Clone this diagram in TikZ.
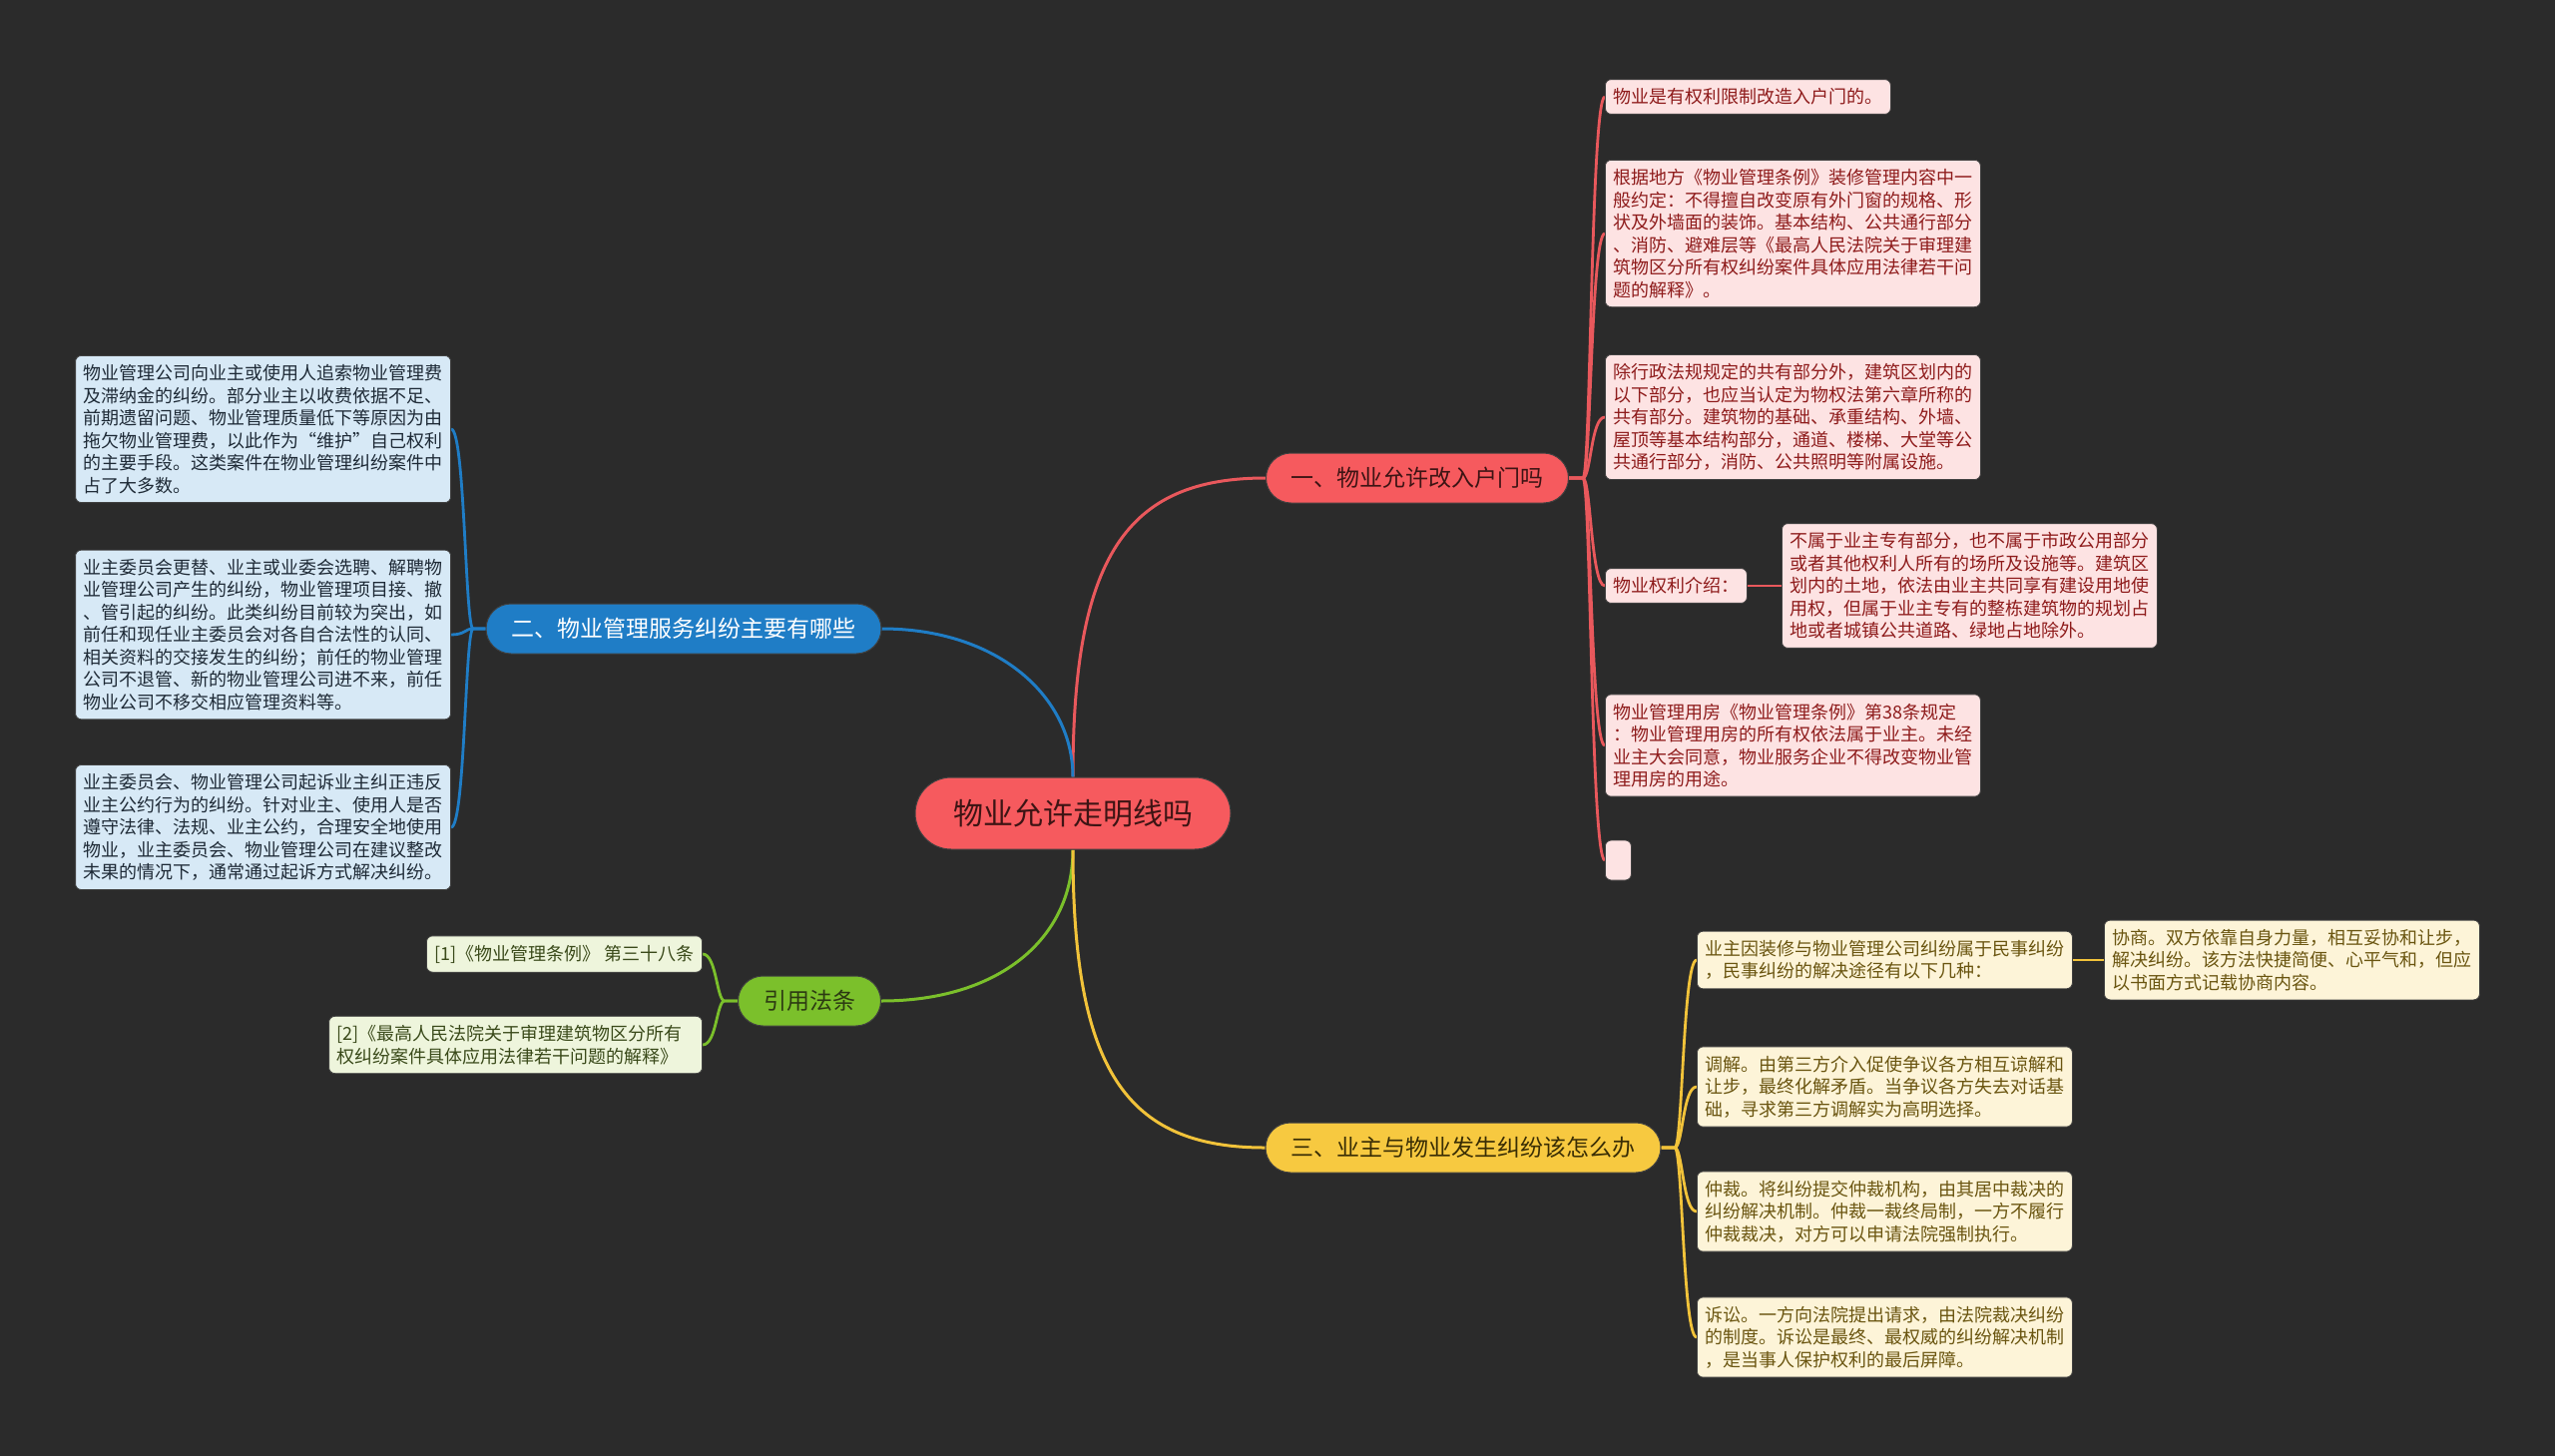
\documentclass[tikz,border=0pt]{standalone}
\usepackage{fontspec}
\setmainfont{Noto Sans CJK SC}
\usetikzlibrary{backgrounds}
\definecolor{bg}{HTML}{2B2B2B}
\definecolor{coral}{HTML}{F65A5E}
\definecolor{coraltext}{HTML}{3D1414}
\definecolor{bblue}{HTML}{1F7DC6}
\definecolor{byellow}{HTML}{F7C940}
\definecolor{ytexttop}{HTML}{3A2E05}
\definecolor{bgreen}{HTML}{7BC02B}
\definecolor{gtexttop}{HTML}{2C3A12}
\definecolor{rfill}{HTML}{FDE3E3}
\definecolor{rtext}{HTML}{8E1B1B}
\definecolor{bfill}{HTML}{D7E9F6}
\definecolor{btext}{HTML}{1E2A36}
\definecolor{gfill}{HTML}{EEF5DC}
\definecolor{gtext}{HTML}{3A4A1A}
\definecolor{yfill}{HTML}{FDF4D8}
\definecolor{ytext}{HTML}{6A5510}
\definecolor{lred}{HTML}{E9585C}
\definecolor{lblue}{HTML}{1F7DC6}
\definecolor{lgreen}{HTML}{7BC02B}
\definecolor{lyellow}{HTML}{F2C33A}
\tikzset{
  leaf/.style={draw=black!75, line width=0.8pt, rounded corners=6pt, inner xsep=8pt, inner ysep=9pt, font=\fontsize{18}{22.5}\selectfont, align=left},
  wide/.style={text width=360pt},
  rleaf/.style={leaf, fill=rfill, text=rtext},
  bleaf/.style={leaf, fill=bfill, text=btext},
  gleaf/.style={leaf, fill=gfill, text=gtext},
  yleaf/.style={leaf, fill=yfill, text=ytext},
  branch/.style={draw=black!75, line width=1pt, rounded corners=25pt, minimum height=50pt, inner sep=0pt, font=\fontsize{23}{28}\selectfont},
  conn/.style={line width=3pt},
  rl/.style={conn, draw=lred},
  bl/.style={conn, draw=lblue},
  gl/.style={conn, draw=lgreen},
  yl/.style={conn, draw=lyellow},
}
\begin{document}
\begin{tikzpicture}[x=1pt,y=-1pt]
\useasboundingbox (0,0) rectangle (2560,1459);

% center
\node[draw=black!75, line width=1pt, fill=coral, text=coraltext, rounded corners=36pt, minimum width=316pt, minimum height=72pt, inner sep=0pt, font=\fontsize{30}{36}\selectfont] (c) at (1075,815) {物业允许走明线吗};

% branches
\node[branch, fill=coral, text=coraltext, minimum width=303pt] (b1) at (1420,479) {一、物业允许改入户门吗};
\node[branch, fill=bblue, text=white, minimum width=396pt] (b2) at (685,630) {二、物业管理服务纠纷主要有哪些};
\node[branch, fill=byellow, text=ytexttop, minimum width=396pt] (b3) at (1466,1150) {三、业主与物业发生纠纷该怎么办};
\node[branch, fill=bgreen, text=gtexttop, minimum width=143pt] (b4) at (811,1003) {引用法条};

% red leaves
\node[rleaf, anchor=west] (r1) at (1608,97) {物业是有权利限制改造入户门的。};
\node[rleaf, wide, anchor=west] (r2) at (1608,234) {根据地方《物业管理条例》装修管理内容中一\\般约定：不得擅自改变原有外门窗的规格、形\\状及外墙面的装饰。基本结构、公共通行部分\\、消防、避难层等《最高人民法院关于审理建\\筑物区分所有权纠纷案件具体应用法律若干问\\题的解释》。};
\node[rleaf, wide, anchor=west] (r3) at (1608,418) {除行政法规规定的共有部分外，建筑区划内的\\以下部分，也应当认定为物权法第六章所称的\\共有部分。建筑物的基础、承重结构、外墙、\\屋顶等基本结构部分，通道、楼梯、大堂等公\\共通行部分，消防、公共照明等附属设施。};
\node[rleaf, anchor=west] (r4) at (1608,587) {物业权利介绍：};
\node[rleaf, wide, anchor=west] (r4b) at (1785,587) {不属于业主专有部分，也不属于市政公用部分\\或者其他权利人所有的场所及设施等。建筑区\\划内的土地，依法由业主共同享有建设用地使\\用权，但属于业主专有的整栋建筑物的规划占\\地或者城镇公共道路、绿地占地除外。};
\node[rleaf, wide, anchor=west] (r5) at (1608,747) {物业管理用房《物业管理条例》第38条规定\\：物业管理用房的所有权依法属于业主。未经\\业主大会同意，物业服务企业不得改变物业管\\理用房的用途。};
\node[rleaf, anchor=west, inner sep=0pt, minimum width=26pt, minimum height=40pt] (r6) at (1608,862) {};

% blue leaves
\node[bleaf, wide, anchor=east] (l1) at (452,430) {物业管理公司向业主或使用人追索物业管理费\\及滞纳金的纠纷。部分业主以收费依据不足、\\前期遗留问题、物业管理质量低下等原因为由\\拖欠物业管理费，以此作为“维护”自己权利\\的主要手段。这类案件在物业管理纠纷案件中\\占了大多数。};
\node[bleaf, wide, anchor=east] (l2) at (452,636) {业主委员会更替、业主或业委会选聘、解聘物\\业管理公司产生的纠纷，物业管理项目接、撤\\、管引起的纠纷。此类纠纷目前较为突出，如\\前任和现任业主委员会对各自合法性的认同、\\相关资料的交接发生的纠纷；前任的物业管理\\公司不退管、新的物业管理公司进不来，前任\\物业公司不移交相应管理资料等。};
\node[bleaf, wide, anchor=east] (l3) at (452,829) {业主委员会、物业管理公司起诉业主纠正违反\\业主公约行为的纠纷。针对业主、使用人是否\\遵守法律、法规、业主公约，合理安全地使用\\物业，业主委员会、物业管理公司在建议整改\\未果的情况下，通常通过起诉方式解决纠纷。};

% green leaves
\node[gleaf, anchor=east] (g1) at (704,956) {[1]《物业管理条例》 第三十八条};
\node[gleaf, text width=358pt, anchor=east] (g2) at (704,1047) {[2]《最高人民法院关于审理建筑物区分所有\\权纠纷案件具体应用法律若干问题的解释》};

% yellow leaves
\node[yleaf, wide, anchor=west] (y1) at (1700,962) {业主因装修与物业管理公司纠纷属于民事纠纷\\，民事纠纷的解决途径有以下几种：};
\node[yleaf, wide, anchor=west] (y1b) at (2108,962) {协商。双方依靠自身力量，相互妥协和让步，\\解决纠纷。该方法快捷简便、心平气和，但应\\以书面方式记载协商内容。};
\node[yleaf, wide, anchor=west] (y2) at (1700,1089) {调解。由第三方介入促使争议各方相互谅解和\\让步，最终化解矛盾。当争议各方失去对话基\\础，寻求第三方调解实为高明选择。};
\node[yleaf, wide, anchor=west] (y3) at (1700,1214) {仲裁。将纠纷提交仲裁机构，由其居中裁决的\\纠纷解决机制。仲裁一裁终局制，一方不履行\\仲裁裁决，对方可以申请法院强制执行。};
\node[yleaf, wide, anchor=west] (y4) at (1700,1340) {诉讼。一方向法院提出请求，由法院裁决纠纷\\的制度。诉讼是最终、最权威的纠纷解决机制\\，是当事人保护权利的最后屏障。};

\coordinate (rt) at (1586,479);
\coordinate (bt) at (474,630);
\coordinate (gt) at (726,1003);
\coordinate (yt) at (1678,1150);

\begin{pgfonlayer}{background}
\fill[bg] (0,0) rectangle (2560,1459);
% center to branches
\draw[rl] (c.north) .. controls +(0,-220) and +(-140,0) .. (b1.west);
\draw[bl] (c.north) .. controls +(0,-80) and +(117,0) .. (b2.east);
\draw[gl] (c.south) .. controls +(0,90) and +(117,0) .. (b4.east);
\draw[yl] (c.south) .. controls +(0,220) and +(-140,0) .. (b3.west);
% red
\foreach \n in {r1,r2,r3,r4,r5,r6}
  \draw[rl, line width=2.8pt] (b1.east) -- (rt) .. controls +(8,0) and +(-14,0) .. (\n.west);
\draw[rl, line width=2.8pt] (r4.east) -- (r4b.west);
% blue
\foreach \n in {l1,l2,l3}
  \draw[bl, line width=2.8pt] (b2.west) -- (bt) .. controls +(-8,0) and +(14,0) .. (\n.east);
% green
\foreach \n in {g1,g2}
  \draw[gl, line width=2.8pt] (b4.west) -- (gt) .. controls +(-8,0) and +(14,0) .. (\n.east);
% yellow
\foreach \n in {y1,y2,y3,y4}
  \draw[yl, line width=2.8pt] (b3.east) -- (yt) .. controls +(8,0) and +(-14,0) .. (\n.west);
\draw[yl, line width=2.8pt] (y1.east) -- (y1b.west);
\end{pgfonlayer}
\end{tikzpicture}
\end{document}
